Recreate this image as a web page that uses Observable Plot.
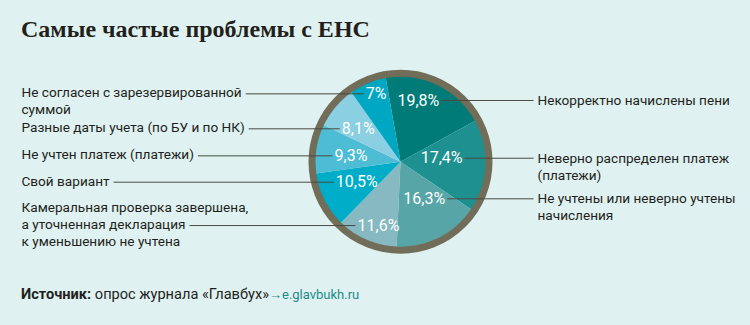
<!DOCTYPE html>
<html><head><meta charset="utf-8">
<script src="https://cdn.jsdelivr.net/npm/d3@7"></script>
<script src="https://cdn.jsdelivr.net/npm/@observablehq/plot@0.6"></script>
<style>
html,body{margin:0;padding:0;background:#dff1f0;}
#wrap{position:relative;width:750px;height:325px;background:#dff1f0;overflow:hidden;}
#title{position:absolute;left:21px;top:17px;font:bold 24px "Liberation Serif","DejaVu Serif",serif;color:#231f1a;line-height:24px;white-space:nowrap;}
#chart{position:absolute;left:0;top:50px;}
#source{position:absolute;left:21px;top:287px;font:14.6px Roboto,sans-serif;line-height:14px;color:#231f20;white-space:nowrap;}
#source b{font-weight:bold;}
#source .link{color:#1e8b8b;font-size:13px;}
</style></head><body>
<div id="wrap">
<div id="title">Самые частые проблемы с ЕНС</div>
<div id="chart"></div>
<div id="source"><b>Источник:</b> опрос журнала «Главбух»<span class="link">→e.glavbukh.ru</span></div>
</div>
<script>
// ---- data ----
const categories = [
  "Некорректно начислены пени",
  "Неверно распределен платеж (платежи)",
  "Не учтены или неверно учтены начисления",
  "Камеральная проверка завершена, а уточненная декларация к уменьшению не учтена",
  "Свой вариант",
  "Не учтен платеж (платежи)",
  "Разные даты учета (по БУ и по НК)",
  "Не согласен с зарезервированной суммой"
];
const values = [19.8, 17.4, 16.3, 11.6, 10.5, 9.3, 8.1, 7];
const valueLabels = ["19,8%", "17,4%", "16,3%", "11,6%", "10,5%", "9,3%", "8,1%", "7%"];
const labelText = [
  "Некорректно начислены пени",
  "Неверно распределен платеж\n(платежи)",
  "Не учтены или неверно учтены\nначисления",
  "Камеральная проверка завершена,\nа уточненная декларация\nк уменьшению не учтена",
  "Свой вариант",
  "Не учтен платеж (платежи)",
  "Разные даты учета (по БУ и по НК)",
  "Не согласен с зарезервированной\nсуммой"
];
const sliceColors = ["#007b77", "#1e9090", "#58a5a7", "#86b9c1", "#00adc8", "#4dbdd5", "#8bcfe3", "#00a7c2"];

// ---- layout ----
const leaderLine = [0, 0, 0, 1, 0, 0, 0, 0];
const startAngle = -10;
const labelAngle = [33.6, 86.8, 128.4, 215.2, 253, 275, 298.5, 331.6];
const labelRadius = [0.866, 0.754, 0.701, 0.918, 0.821, 0.803, 0.813, 0.909];
const W = 750, H = 230, R = 85, CX = 400, CY = 111.3;
const LEFT_X = 21, RIGHT_X = 537, FS = 13.6, LH = 17;
const FONT = "Roboto";

const rad = a => a * Math.PI / 180;
const total = d3.sum(values);

// slice outlines
let acc = startAngle;
const slicePts = [];
categories.forEach((c, i) => {
  const a0 = acc, a1 = acc + values[i] / total * 360; acc = a1;
  const n = Math.max(2, Math.ceil(a1 - a0));
  slicePts.push({cat: c, x: 0, y: 0});
  for (let k = 0; k <= n; k++) {
    const a = rad(a0 + (a1 - a0) * k / n);
    slicePts.push({cat: c, x: Math.sin(a) * 1.01, y: Math.cos(a) * 1.01});
  }
  slicePts.push({cat: c, x: 0, y: 0});
});

const ctx = document.createElement("canvas").getContext("2d");
ctx.font = `${FS}px ${FONT}`;

const labels = categories.map((c, i) => {
  const a = rad(labelAngle[i]);
  const ax = Math.sin(a) * labelRadius[i], ay = Math.cos(a) * labelRadius[i];
  const right = labelAngle[i] < 180;
  const lines = labelText[i].split("\n");
  const k = leaderLine[i];
  const ty = ay - (((lines.length - 1) / 2 - k) * LH) / R;
  let lx1, lx2;
  if (right) { lx1 = ax; lx2 = (RIGHT_X - 4 - CX) / R; }
  else { lx1 = (LEFT_X + ctx.measureText(lines[k]).width + 4 - CX) / R; lx2 = ax; }
  return {cat: c, pct: valueLabels[i], text: labelText[i], right, ax, ay, ty,
          tx: ((right ? RIGHT_X : LEFT_X) - CX) / R, lx1, lx2};
});
const L = labels.filter(d => !d.right), Rt = labels.filter(d => d.right);

const plot = Plot.plot({
  width: W, height: H,
  marginTop: 0, marginBottom: 0, marginLeft: 0, marginRight: 0,
  x: {domain: [-CX / R, (W - CX) / R], range: [0, W], axis: null},
  y: {domain: [-(H - CY) / R, CY / R], range: [H, 0], axis: null},
  color: {domain: categories, range: sliceColors},
  style: {background: "transparent", overflow: "visible"},
  marks: [
    Plot.line(slicePts, {x: "x", y: "y", z: "cat", fill: "cat", stroke: "none", curve: "linear"}),
    Plot.dot([{x: 0, y: 0}], {x: "x", y: "y", r: 88.5, stroke: "#716d58", strokeWidth: 7, fill: "none"}),
    Plot.link(labels, {x1: "lx1", x2: "lx2", y1: "ay", y2: "ay", stroke: "#4a4a40", strokeWidth: 1}),
    Plot.text(L, {x: "ax", y: "ay", text: "pct", textAnchor: "start", dx: 2, fill: "white", fontSize: 16, fontFamily: FONT}),
    Plot.text(Rt, {x: "ax", y: "ay", text: "pct", textAnchor: "end", dx: -2, fill: "white", fontSize: 16, fontFamily: FONT}),
    Plot.text(L, {x: "tx", y: "ty", text: "text", textAnchor: "start", dy: -2, fill: "#231f20", fontSize: FS, fontFamily: FONT, lineHeight: LH / FS}),
    Plot.text(Rt, {x: "tx", y: "ty", text: "text", textAnchor: "start", dy: -1, fill: "#231f20", fontSize: FS, fontFamily: FONT, lineHeight: LH / FS})
  ]
});
d3.select(plot).selectAll('text[fill="white"]').attr("letter-spacing", "0.6px");
document.getElementById("chart").appendChild(plot);
</script>
</body></html>
